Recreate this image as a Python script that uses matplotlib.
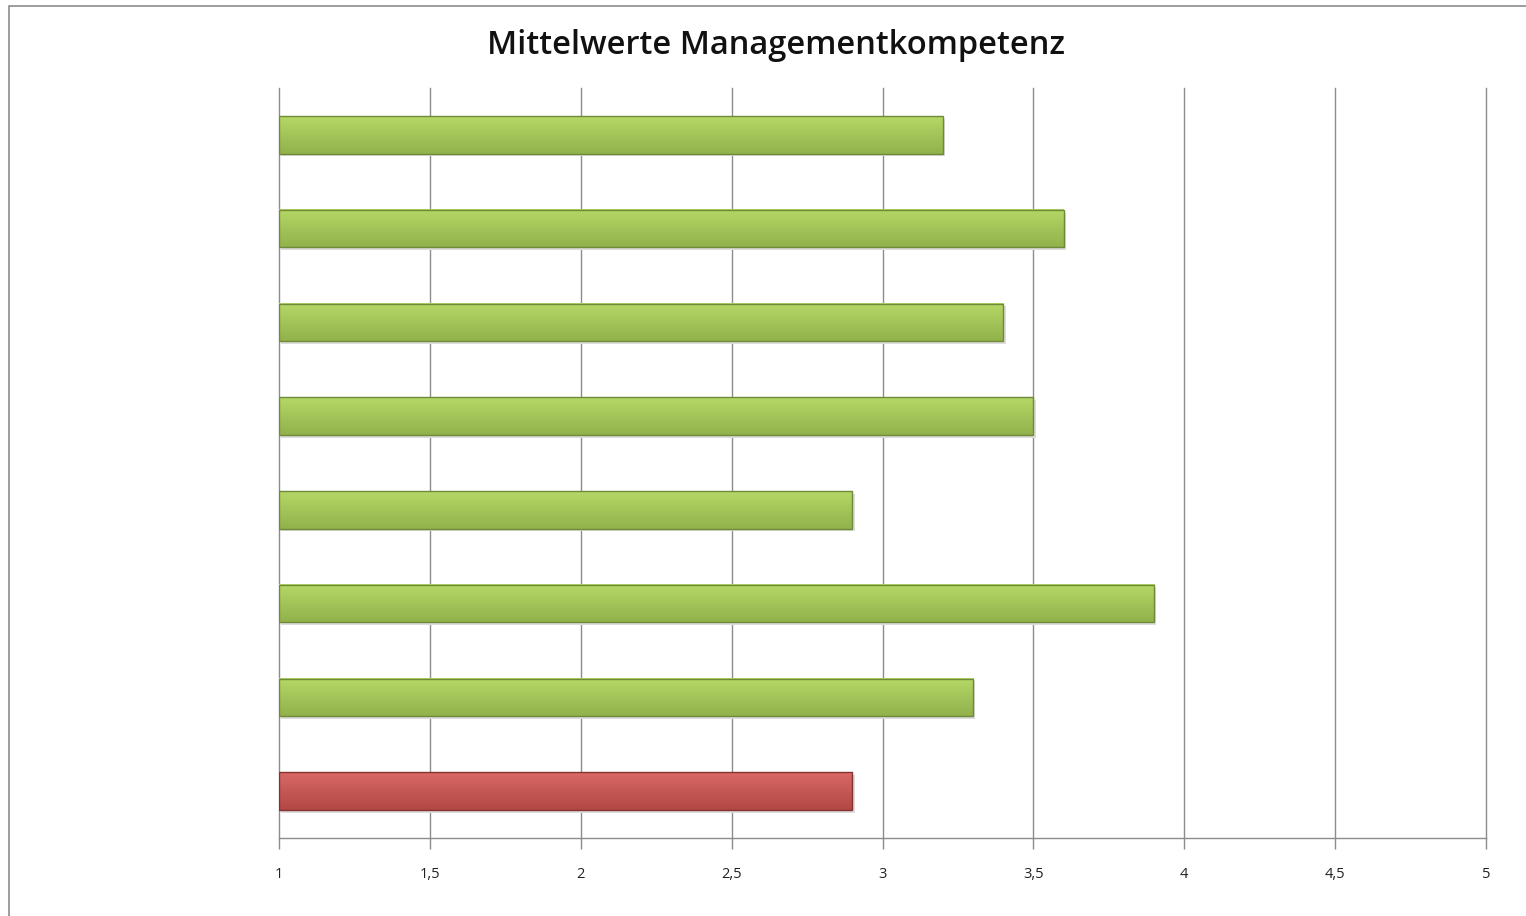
import matplotlib
matplotlib.use("Agg")
import matplotlib.pyplot as plt
import numpy as np
from matplotlib.patches import Rectangle
from matplotlib.colors import LinearSegmentedColormap

plt.rcParams["font.family"] = ["Open Sans", "DejaVu Sans"]

# Balken von oben nach unten
values = [3.2, 3.6, 3.4, 3.5, 2.9, 3.9, 3.3, 2.9]
tops = ["#b4d866"] * 7 + ["#d86866"]
bottoms = ["#92b14c"] * 7 + ["#b24845"]
edges = ["#6f8a38"] * 7 + ["#853230"]
xticks = [1, 1.5, 2, 2.5, 3, 3.5, 4, 4.5, 5]
xticklabels = ["1", "1,5", "2", "2,5", "3", "3,5", "4", "4,5", "5"]
title = "Mittelwerte Managementkompetenz"

W, H = 1526, 916
fig = plt.figure(figsize=(W / 100, H / 100), dpi=100)
ax = fig.add_axes([279 / W, 1 - 838 / H, (1486 - 279) / W, (838 - 88) / H])

n = len(values)
ypos = list(range(n))[::-1]
base = 1
h = 0.40
grad = np.linspace(0, 1, 64).reshape(-1, 1)
for y, v, t, b, e in zip(ypos, values, tops, bottoms, edges):
    # Schatten
    ax.barh(y - 0.03, v - base, left=base + 0.008, height=h, color="#dcdcdc", zorder=2, lw=0)
    cmap = LinearSegmentedColormap.from_list("g", [t, b])
    ax.imshow(grad, cmap=cmap, aspect="auto", extent=[base, v, y - h / 2, y + h / 2],
              origin="upper", zorder=3, interpolation="bilinear")
    ax.barh(y, v - base, left=base, height=h, fill=False, edgecolor=e, lw=1.0, zorder=4)

ax.set_xlim(1, 5)
ax.set_ylim(-0.5, n - 0.5)
ax.set_xticks(xticks)
ax.set_xticklabels(xticklabels, fontsize=10.5, color="#222222")
ax.set_yticks([])
for xv in xticks[1:]:
    ax.axvline(xv, color="#8c8c8c", lw=1.0, zorder=0, clip_on=False)
for s in ["top", "right"]:
    ax.spines[s].set_visible(False)
for s in ["left", "bottom"]:
    ax.spines[s].set_color("#8c8c8c")
    ax.spines[s].set_linewidth(1.0)
ax.tick_params(axis="x", length=8, width=1.0, color="#8c8c8c", pad=13)

fig.text(776 / W, 1 - 45 / H, title, ha="center", va="center", fontsize=23.5,
         fontweight="semibold", color="#111111")

# Diagrammrahmen
fig.patches.append(Rectangle((9 / W, -0.05), 1.2, 1 - 6 / H + 0.05, transform=fig.transFigure,
                             fill=False, edgecolor="#8c8c8c", lw=1.2))

plt.savefig("out.png", dpi=100)
